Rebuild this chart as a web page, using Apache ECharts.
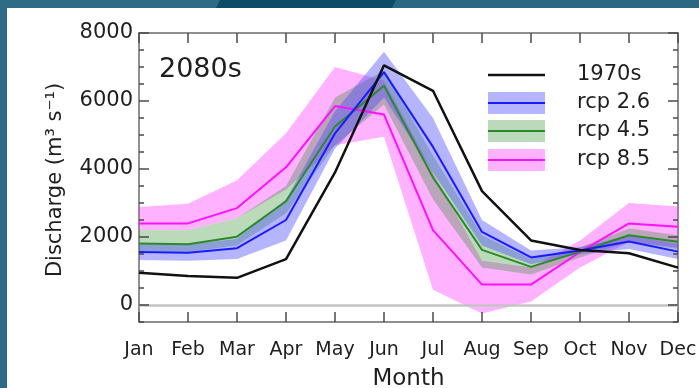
<!DOCTYPE html>
<html>
<head>
<meta charset="utf-8">
<script src="https://cdn.jsdelivr.net/npm/echarts@6/dist/echarts.min.js"></script>
<style>
  html, body { margin: 0; padding: 0; width: 699px; height: 388px; overflow: hidden; }
  body { background: linear-gradient(115deg, #2d6b86 0%, #2d6b86 25%, #0d4c68 25%, #0d4c68 45%, #2a6883 45%, #2a6883 80%, #0b4a66 80%, #0b4a66 100%); position: relative; }
  #paper { position: absolute; left: 7px; top: 8px; right: 0; bottom: 0; background: #ffffff; }
  #chart { position: absolute; left: 0; top: 0; width: 699px; height: 388px; }
</style>
</head>
<body>
<div id="paper"></div>
<div id="chart"></div>
<script>
// ---- data ----
const months = ['Jan', 'Feb', 'Mar', 'Apr', 'May', 'Jun', 'Jul', 'Aug', 'Sep', 'Oct', 'Nov', 'Dec'];
const yTickLabels = [0, 2000, 4000, 6000, 8000];
const yMinorTicks = [-500, 500, 1000, 1500, 2500, 3000, 3500, 4500, 5000, 5500, 6500, 7000, 7500];
const Y_MIN = -500, Y_MAX = 8000;

const base1970 = [950, 850, 800, 1350, 3900, 7050, 6300, 3350, 1900, 1620, 1520, 1100];

const rcp26   = [1560, 1540, 1670, 2500, 5050, 6850, 4650, 2150, 1400, 1600, 1870, 1570];
const rcp26Lo = [1320, 1300, 1350, 1900, 4600, 6100, 3900, 1750, 1200, 1500, 1650, 1350];
const rcp26Hi = [1800, 1780, 1950, 3100, 5700, 7450, 5500, 2500, 1600, 1700, 2050, 1800];

const rcp45   = [1810, 1790, 2010, 3050, 5250, 6450, 3750, 1620, 1120, 1570, 2050, 1860];
const rcp45Lo = [1580, 1560, 1750, 2700, 4700, 5900, 3100, 1100, 900, 1400, 1850, 1650];
const rcp45Hi = [2200, 2200, 2550, 3500, 6100, 6900, 4400, 2050, 1350, 1700, 2250, 2050];

const rcp85   = [2400, 2400, 2850, 4050, 5850, 5600, 2200, 600, 600, 1560, 2400, 2300];
const rcp85Lo = [2200, 2200, 2550, 3400, 4700, 4950, 450, -250, 100, 1100, 1850, 1700];
const rcp85Hi = [2880, 2980, 3670, 5050, 7000, 6600, 3900, 1300, 1100, 1900, 3000, 2900];

const seriesNames = ['1970s', 'rcp 2.6', 'rcp 4.5', 'rcp 8.5'];
// ---- style ----
const FONT = 'DejaVu Sans';
const TXT = '#1e1e1e';
const lineColors = { '1970s': '#111111', 'rcp 2.6': '#1a1aff', 'rcp 4.5': '#2a8a2a', 'rcp 8.5': '#ff10ff' };
const bandColors = { 'rcp 2.6': 'rgba(70,70,255,0.40)', 'rcp 4.5': 'rgba(40,140,40,0.32)', 'rcp 8.5': 'rgba(255,30,255,0.34)' };
const TICK_COLOR = '#4a4a4a';

function bandSeries(name, lo, hi, extra) {
  const diff = hi.map((h, i) => h - lo[i]);
  return [
    Object.assign({
      name: name + ' lo', type: 'line', data: lo, stack: name, stackStrategy: 'all',
      symbol: 'none', lineStyle: { opacity: 0 }, silent: true, z: 1
    }, extra || {}),
    {
      name: name + ' band', type: 'line', data: diff, stack: name, stackStrategy: 'all',
      symbol: 'none', lineStyle: { opacity: 0 }, areaStyle: { color: bandColors[name], opacity: 1 },
      silent: true, z: 1
    }
  ];
}
function lineSeries(name, data, width, z) {
  return { name: name, type: 'line', data: data, symbol: 'none',
    lineStyle: { color: lineColors[name], width: width }, itemStyle: { color: lineColors[name] }, z: z };
}

// tick marks drawn inside the frame through the axes' own scales
const xTickData = months.map((m, i) => [i, 0]);
const yTickData = yTickLabels.map(v => [0, v, 10]).concat(yMinorTicks.map(v => [0, v, 5]));
function tickLine(x1, y1, x2, y2) {
  return { type: 'line', shape: { x1: x1, y1: y1, x2: x2, y2: y2 }, style: { stroke: TICK_COLOR, lineWidth: 1.5 } };
}
function renderXTick(params, api) {
  const i = api.value(0);
  const t = api.coord([i, Y_MAX]);
  const b = api.coord([i, Y_MIN]);
  return { type: 'group', children: [
    tickLine(t[0], t[1], t[0], t[1] + 10),
    tickLine(b[0], b[1], b[0], b[1] - 10)
  ]};
}
function renderYTick(params, api) {
  const v = api.value(1), len = api.value(2);
  const l = api.coord([0, v]);
  const r = api.coord([months.length - 1, v]);
  return { type: 'group', children: [
    tickLine(l[0], l[1], l[0] + len, l[1]),
    tickLine(r[0], r[1], r[0] - len, r[1])
  ]};
}

const axisLineStyle = { color: '#6a6a6a', width: 1.5 };

const legendRowsY = [75, 103, 131, 160];
const graphics = [];
seriesNames.forEach((n, i) => {
  const y = legendRowsY[i];
  if (bandColors[n]) {
    graphics.push({ type: 'rect', shape: { x: 488, y: y - 11, width: 57, height: 22 }, style: { fill: bandColors[n] } });
  }
  graphics.push({ type: 'line', shape: { x1: 488, y1: y, x2: 545, y2: y }, style: { stroke: lineColors[n], lineWidth: n === '1970s' ? 2.5 : 2 } });
  graphics.push({ type: 'text', x: 577, y: y, style: { text: n, fill: TXT, font: '21px "' + FONT + '"', verticalAlign: 'middle', textAlign: 'left' } });
});
graphics.push({ type: 'text', x: 56, y: 180, rotation: Math.PI / 2,
  style: { text: 'Discharge (m³ s⁻¹)', fill: TXT, font: '21px "' + FONT + '"', textAlign: 'center', verticalAlign: 'middle' } });

const chart = echarts.init(document.getElementById('chart'), null, { renderer: 'canvas' });
chart.setOption({
  backgroundColor: 'transparent',
  animation: false,
  title: { text: '2080s', left: 154, top: 51, textStyle: { fontFamily: FONT, fontSize: 27, fontWeight: 'normal', color: TXT } },
  grid: { left: 139, right: 21, top: 33, bottom: 66, containLabel: false, outerBoundsMode: 'none' },
  xAxis: [
    { type: 'category', data: months, boundaryGap: false, position: 'bottom',
      axisLine: { show: true, onZero: false, lineStyle: axisLineStyle },
      axisTick: { show: false },
      axisLabel: { fontFamily: FONT, fontSize: 19, color: TXT, margin: 19, interval: 0 },
      splitLine: { show: false },
      name: 'Month', nameLocation: 'middle', nameGap: 46,
      nameTextStyle: { fontFamily: FONT, fontSize: 23, color: TXT } },
    { type: 'category', data: months, boundaryGap: false, position: 'top',
      axisLine: { show: true, onZero: false, lineStyle: axisLineStyle },
      axisTick: { show: false }, axisLabel: { show: false }, splitLine: { show: false } }
  ],
  yAxis: [
    { type: 'value', position: 'left', min: Y_MIN, max: Y_MAX,
      axisLine: { show: true, onZero: false, lineStyle: axisLineStyle },
      axisTick: { show: false }, splitLine: { show: false },
      axisLabel: { customValues: yTickLabels, formatter: v => String(v),
        fontFamily: FONT, fontSize: 21, color: TXT, margin: 6 } },
    { type: 'value', position: 'right', min: Y_MIN, max: Y_MAX,
      axisLine: { show: true, onZero: false, lineStyle: axisLineStyle },
      axisTick: { show: false }, splitLine: { show: false }, axisLabel: { show: false } }
  ],
  series: [
    ...bandSeries('rcp 8.5', rcp85Lo, rcp85Hi, {
      markLine: { silent: true, symbol: 'none', label: { show: false },
        lineStyle: { color: '#c4c4c4', width: 2.5, type: 'solid' }, data: [{ yAxis: 0 }] }
    }),
    ...bandSeries('rcp 4.5', rcp45Lo, rcp45Hi),
    ...bandSeries('rcp 2.6', rcp26Lo, rcp26Hi),
    lineSeries('rcp 8.5', rcp85, 2, 3),
    lineSeries('rcp 4.5', rcp45, 2, 3),
    lineSeries('rcp 2.6', rcp26, 2, 3),
    lineSeries('1970s', base1970, 2.5, 4),
    { type: 'custom', name: 'xticks', data: xTickData, renderItem: renderXTick, clip: false, silent: true, z: 5 },
    { type: 'custom', name: 'yticks', data: yTickData, renderItem: renderYTick, clip: false, silent: true, z: 5 }
  ],
  graphic: graphics
});
</script>
</body>
</html>
